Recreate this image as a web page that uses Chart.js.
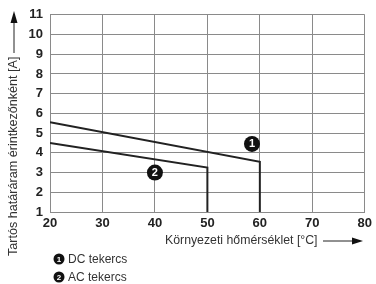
<!DOCTYPE html>
<html>
<head>
<meta charset="utf-8">
<script src="https://cdn.jsdelivr.net/npm/chart.js@4/dist/chart.umd.min.js"></script>
<style>
  html,body{margin:0;padding:0;background:#fff;}
  #wrap{width:376px;height:284px;}
</style>
</head>
<body>
<div id="wrap"><canvas id="myChart"></canvas></div>
<script>
const dcTemps=[20,60,60];
const dcCurrent=[5.55,3.55,1];
const acTemps=[20,50,50];
const acCurrent=[4.5,3.25,1];
const xTicks=[20,30,40,50,60,70,80];
const yTicks=[1,2,3,4,5,6,7,8,9,10,11];
const markerLabels=["1","2"];
const markerX=[58.5,40];
const markerY=[4.45,3.0];
const legendLabels=["DC tekercs","AC tekercs"];
const xTitle="Környezeti hőmérséklet [°C]";
const yTitle="Tartós határáram érintkezőnként [A]";

const toPoints=(xs,ys)=>xs.map((x,i)=>({x:x,y:ys[i]}));

const drawBadge=(ctx,x,y,r,txt,fs)=>{
    ctx.beginPath();
    ctx.arc(x,y,r,0,Math.PI*2);
    ctx.fillStyle="#111";
    ctx.fill();
    ctx.fillStyle="#fff";
    ctx.font="bold "+fs+"px 'Liberation Sans', Arial, sans-serif";
    ctx.textAlign="center";
    ctx.textBaseline="middle";
    ctx.fillText(txt,x,y+0.5);
};

const extras={
    id:"extras",
    afterDatasetsDraw(chart){
        const ctx=chart.ctx;
        const xs=chart.scales.x, ys=chart.scales.y;
        ctx.save();
        markerLabels.forEach((m,i)=>{
            drawBadge(ctx,xs.getPixelForValue(markerX[i]),ys.getPixelForValue(markerY[i]),8,m,11);
        });
        // x axis title + arrow
        ctx.fillStyle="#333";
        ctx.font="12.3px 'Liberation Sans', Arial, sans-serif";
        ctx.textAlign="left";
        ctx.textBaseline="middle";
        ctx.fillText(xTitle,165,241);
        ctx.strokeStyle="#222";
        ctx.lineWidth=1;
        ctx.beginPath();ctx.moveTo(323,241);ctx.lineTo(353,241);ctx.stroke();
        ctx.fillStyle="#111";
        ctx.beginPath();ctx.moveTo(363,241);ctx.lineTo(352,237.5);ctx.lineTo(352,244.5);ctx.closePath();ctx.fill();
        // y axis title + arrow
        ctx.save();
        ctx.translate(14,256);
        ctx.rotate(-Math.PI/2);
        ctx.fillStyle="#333";
        ctx.font="12.6px 'Liberation Sans', Arial, sans-serif";
        ctx.textAlign="left";
        ctx.fillText(yTitle,0,0);
        ctx.restore();
        ctx.beginPath();ctx.moveTo(14,53);ctx.lineTo(14,22);ctx.stroke();
        ctx.beginPath();ctx.moveTo(14,11);ctx.lineTo(10.5,23);ctx.lineTo(17.5,23);ctx.closePath();ctx.fill();
        // legend
        legendLabels.forEach((l,i)=>{
            const y=259+i*18;
            drawBadge(ctx,59,y,5.5,markerLabels[i],8);
            ctx.fillStyle="#333";
            ctx.font="12px 'Liberation Sans', Arial, sans-serif";
            ctx.textAlign="left";
            ctx.textBaseline="middle";
            ctx.fillText(l,68,y+0.5);
        });
        ctx.restore();
    }
};

const ctx=document.getElementById("myChart").getContext("2d");
const myChart=new Chart(ctx,{
    type:"scatter",
    data:{
        datasets:[
            {data:toPoints(dcTemps,dcCurrent),showLine:true,borderColor:"#222",borderWidth:2,pointRadius:0,fill:false},
            {data:toPoints(acTemps,acCurrent),showLine:true,borderColor:"#222",borderWidth:2,pointRadius:0,fill:false}
        ]
    },
    options:{
        responsive:true,
        maintainAspectRatio:false,
        animation:false,
        layout:{padding:{left:0,right:10,top:11,bottom:0}},
        plugins:{legend:{display:false},tooltip:{enabled:false}},
        scales:{
            x:{
                type:"linear",min:20,max:80,
                afterBuildTicks:(s)=>{s.ticks=xTicks.map(v=>({value:v}));},
                afterFit:(s)=>{s.height=72;},
                grid:{color:"#8a8a8a",lineWidth:1,drawTicks:false},
                border:{display:true,color:"#8a8a8a"},
                ticks:{color:"#222",padding:4,maxRotation:0,font:{family:"'Liberation Sans', Arial, sans-serif",size:13,weight:"bold"}}
            },
            y:{
                type:"linear",min:1,max:11,
                afterBuildTicks:(s)=>{s.ticks=yTicks.map(v=>({value:v}));},
                afterFit:(s)=>{s.width=50;},
                grid:{color:"#8a8a8a",lineWidth:1,drawTicks:false},
                border:{display:true,color:"#8a8a8a"},
                ticks:{color:"#222",padding:7,font:{family:"'Liberation Sans', Arial, sans-serif",size:13,weight:"bold"}}
            }
        }
    },
    plugins:[extras]
});
</script>
</body>
</html>
